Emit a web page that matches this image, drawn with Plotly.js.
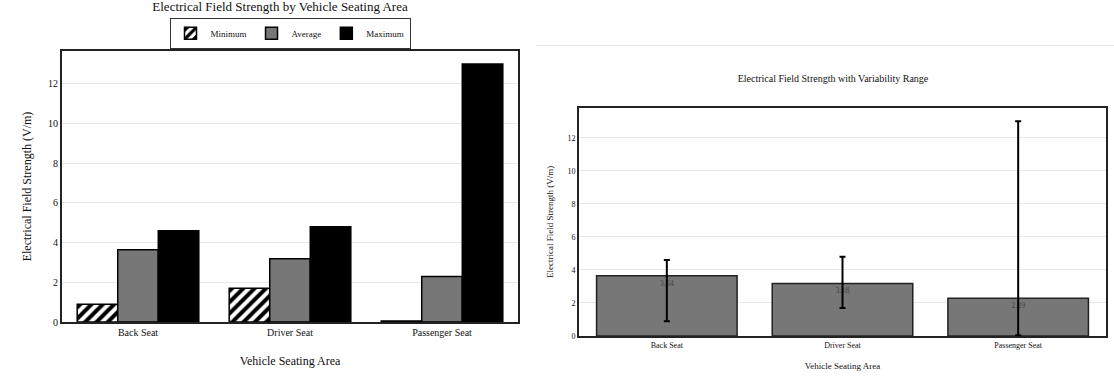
<!DOCTYPE html>
<html>
<head>
<meta charset="utf-8">
<script src="https://cdn.plot.ly/plotly-3.0.1.min.js"></script>
<style>
  html, body { margin: 0; padding: 0; background: #fff; width: 1114px; height: 378px; overflow: hidden; }
  #left { position: absolute; left: 0; top: 0; width: 540px; height: 378px; }
  #right { position: absolute; left: 536px; top: 45px; width: 578px; height: 333px; border-top: 1px solid #e6e6e6; }
</style>
</head>
<body>
<div id="left"></div>
<div id="right"></div>
<script>
const categories = ["Back Seat", "Driver Seat", "Passenger Seat"];
const minimumValues = [0.9, 1.7, 0.05];
const averageValues = [3.64, 3.18, 2.29];
const maximumValues = [4.6, 4.8, 13.0];
const yTickValues = [0, 2, 4, 6, 8, 10, 12];

const serif = "Liberation Serif";
const f = (size, color) => ({ family: serif, size: size, color: color || "#111" });

// Left chart: grouped bars
const leftTraces = [
  {
    type: "bar", name: "Minimum", x: categories, y: minimumValues,
    marker: { color: "#ffffff", line: { color: "#000", width: 1.5 },
      pattern: { shape: "/", fgcolor: "#000", bgcolor: "#fff", size: 8, solidity: 0.5 } }
  },
  {
    type: "bar", name: "Average", x: categories, y: averageValues,
    marker: { color: "#777777", line: { color: "#000", width: 1.5 } }
  },
  {
    type: "bar", name: "Maximum", x: categories, y: maximumValues,
    marker: { color: "#000000", line: { color: "#000", width: 1.5 } }
  }
];

const leftLayout = {
  width: 540, height: 378,
  margin: { l: 62, r: 22, t: 51, b: 56 },
  paper_bgcolor: "#fff", plot_bgcolor: "#fff",
  font: f(10),
  title: { text: "Electrical Field Strength by Vehicle Seating Area",
    font: f(13),
    x: 280 / 540, xref: "container", xanchor: "center",
    y: 1 - 2 / 378, yref: "container", yanchor: "top" },
  barmode: "group", bargap: 0.2, bargroupgap: 0,
  showlegend: true,
  legend: { orientation: "h", x: 0.5, xanchor: "center", y: 1.008, yanchor: "bottom",
    bordercolor: "#333", borderwidth: 1, bgcolor: "#fff",
    font: f(9), itemwidth: 30, tracegroupgap: 0 },
  xaxis: {
    showline: true, linecolor: "#222", linewidth: 2, mirror: true,
    ticks: "", tickfont: f(10),
    title: { text: "Vehicle Seating Area", font: f(12), standoff: 20 }
  },
  yaxis: {
    range: [0, 13.65], tickvals: yTickValues,
    showline: true, linecolor: "#222", linewidth: 2, mirror: true,
    gridcolor: "#e8e8e8", zeroline: false, ticks: "", tickfont: f(10),
    title: { text: "Electrical Field Strength (V/m)", font: f(12), standoff: 14 }
  }
};

// Right chart: average with min/max range
const plusRange = maximumValues.map((v, i) => v - averageValues[i]);
const minusRange = averageValues.map((v, i) => v - minimumValues[i]);

const rightTraces = [
  {
    type: "bar", x: categories, y: averageValues,
    text: averageValues.map(v => v.toFixed(2)), textposition: "inside", insidetextanchor: "end",
    textfont: f(8, "#444"),
    marker: { color: "#777777", line: { color: "#222", width: 1.5 } },
    error_y: { type: "data", symmetric: false, array: plusRange, arrayminus: minusRange,
      color: "#000", thickness: 2, width: 3 },
    showlegend: false
  }
];

const rightLayout = {
  width: 578, height: 333,
  margin: { l: 43, r: 8, t: 62, b: 43 },
  paper_bgcolor: "#fff", plot_bgcolor: "#fff",
  font: f(8),
  title: { text: "Electrical Field Strength with Variability Range",
    font: f(10),
    x: (833 - 536) / 578, xref: "container", xanchor: "center",
    y: 1 - 29 / 333, yref: "container", yanchor: "top" },
  bargap: 0.2,
  xaxis: {
    showline: true, linecolor: "#222", linewidth: 2, mirror: true,
    ticks: "", tickfont: f(8),
    title: { text: "Vehicle Seating Area", font: f(9), standoff: 14 }
  },
  yaxis: {
    range: [0, 13.8], tickvals: yTickValues,
    showline: true, linecolor: "#222", linewidth: 2, mirror: true,
    gridcolor: "#e8e8e8", zeroline: false, ticks: "", tickfont: f(8),
    title: { text: "Electrical Field Strength (V/m)", font: f(9), standoff: 12 }
  }
};

Plotly.newPlot("left", leftTraces, leftLayout, { displayModeBar: false, staticPlot: true });
Plotly.newPlot("right", rightTraces, rightLayout, { displayModeBar: false, staticPlot: true });
</script>
</body>
</html>
